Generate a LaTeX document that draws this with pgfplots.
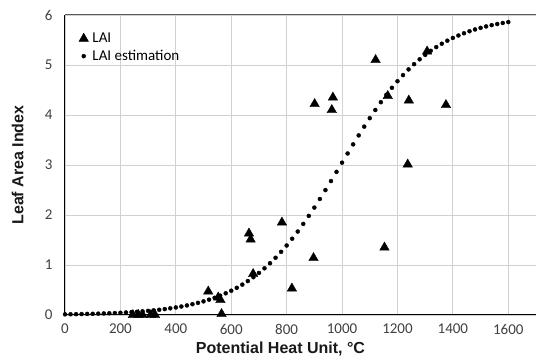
\documentclass[border=0pt]{standalone}
\usepackage{pgfplots}
\pgfplotsset{compat=1.18}
\usepackage{fontspec}
\setmainfont{Carlito}
\newfontfamily\arialfont{Liberation Sans}
\begin{document}
\begin{tikzpicture}
\begin{axis}[
  at={(0,0)}, anchor=south west,
  scale only axis, width=471pt, height=300pt,
  xmin=0, xmax=1700, ymin=0, ymax=6,
  xtick={0,200,...,1600}, ytick={0,1,...,6},
  grid=major, grid style={draw=black!18, line width=0.9pt},
  axis x line*=bottom, axis y line*=left,
  axis line style={black, line width=1pt, -},
  major tick length=0pt,
  clip=false,
  tick label style={font=\fontsize{15}{16}\selectfont, color=black!75},
  /pgf/number format/assume math mode=true,
  /pgf/number format/1000 sep={},
  xticklabel style={yshift=-8pt, inner ysep=1pt},
  yticklabel style={xshift=-9pt},
  xlabel={Potential Heat Unit, °C},
  ylabel={Leaf Area Index},
  label style={font=\arialfont\bfseries\fontsize{16}{18}\selectfont, color=black!90},
  xlabel style={at={(axis description cs:0.5,0)}, anchor=north, xshift=-20pt, yshift=-26pt, inner ysep=1pt},
  ylabel style={at={(axis description cs:0,0.5)}, anchor=south, yshift=38pt},
  legend style={at={(0.025,0.952)}, anchor=north west, draw=none, fill=none,
    font=\fontsize{15}{17}\selectfont, row sep=3pt, inner sep=2pt,
    nodes={inner ysep=1.5pt, inner xsep=4pt}},
  legend cell align=left,
  after end axis/.code={\draw[black!65, line width=1pt] (rel axis cs:0,1) -- (rel axis cs:1,1);},
]
\addplot[only marks, mark=triangle*, mark size=5.5pt, black] coordinates {
(245,0) (265,0) (280,0) (310,0) (325,0)
(517,0.47) (553,0.35) (561,0.30) (565,0.02)
(664,1.63) (670,1.51) (679,0.82) (783,1.85) (819,0.53)
(897,1.14) (901,4.22) (963,4.10) (967,4.35)
(1121,5.10) (1153,1.35) (1165,4.38) (1237,3.01) (1241,4.29) (1307,5.27) (1375,4.20)
};
\addlegendentry{LAI}
\addplot[only marks, mark=*, mark size=2pt, black] coordinates {
(0,0.0132) (20,0.0149) (40,0.0168) (60,0.0190) (80,0.0215) (100,0.0243) (120,0.0275) (140,0.0311) (160,0.0351) (180,0.0397)
(200,0.0448) (220,0.0506) (240,0.0572) (260,0.0647) (280,0.0730) (300,0.0824) (320,0.0930) (340,0.1050) (360,0.1184) (380,0.1336)
(400,0.1507) (420,0.1699) (440,0.1913) (460,0.2156) (480,0.2427) (500,0.2727) (520,0.3068) (540,0.3446) (560,0.3868) (580,0.4338)
(600,0.4858) (620,0.5440) (640,0.6077) (660,0.6783) (680,0.7559) (700,0.8409) (720,0.9339) (740,1.0350) (760,1.1446) (780,1.2629)
(800,1.3898) (820,1.5255) (840,1.6694) (860,1.8220) (880,1.9815) (900,2.1482) (920,2.3202) (940,2.4979) (960,2.6786) (980,2.8626)
(1000,3.0465) (1020,3.2302) (1040,3.4127) (1060,3.5922) (1080,3.7675) (1100,3.9365) (1120,4.0998) (1140,4.2559) (1160,4.4040) (1180,4.5437)
(1200,4.6750) (1220,4.7978) (1240,4.9117) (1260,5.0172) (1280,5.1138) (1300,5.2030) (1320,5.2840) (1340,5.3581) (1360,5.4255) (1380,5.4860)
(1400,5.5412) (1420,5.5903) (1440,5.6349) (1460,5.6748) (1480,5.7110) (1500,5.7427) (1520,5.7714) (1540,5.7971) (1560,5.8196) (1580,5.8400)
(1600,5.8582)
};
\addlegendentry{LAI estimation}
\end{axis}
\pgfresetboundingbox
\path[use as bounding box] (-65pt,-46pt) rectangle (471pt,315pt);
\end{tikzpicture}
\end{document}
